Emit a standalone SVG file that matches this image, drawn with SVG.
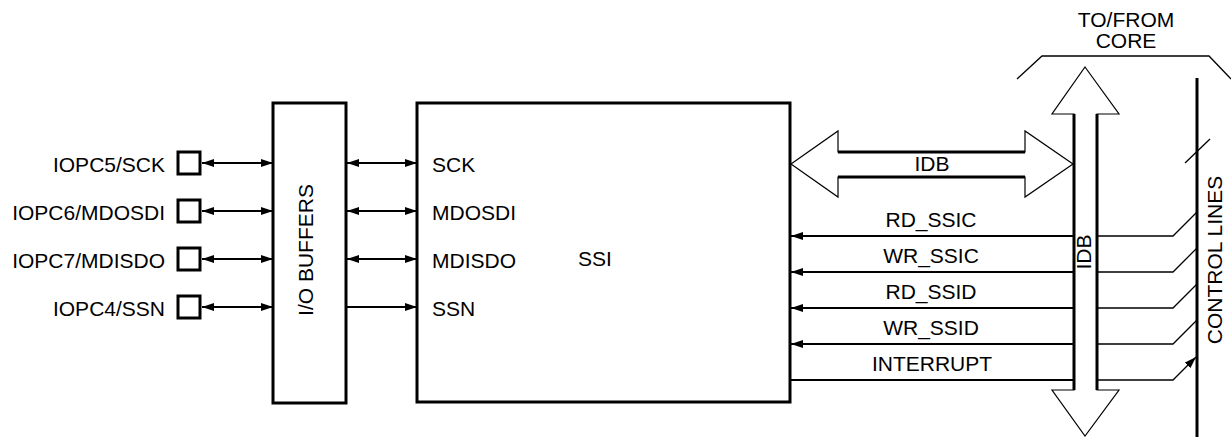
<svg xmlns="http://www.w3.org/2000/svg" width="1231" height="437" viewBox="0 0 1231 437">
<defs>
<marker id="ah" markerUnits="userSpaceOnUse" markerWidth="13" markerHeight="9" refX="12" refY="4" orient="auto-start-reverse"><path d="M0,0 L12,4 L0,8 z" fill="#000"/></marker>
</defs>
<style>
text{font-family:"Liberation Sans",Arial,sans-serif;font-size:21px;fill:#000}
.box{fill:#fff;stroke:#000;stroke-width:3}
.pad{fill:#fff;stroke:#000;stroke-width:3}
.w{fill:none;stroke:#000;stroke-width:2}
.thin{fill:none;stroke:#000;stroke-width:1.3}
.bus{fill:#fff;stroke:#000;stroke-width:1.2}
.shaft{stroke:#000;stroke-width:3}
.mid{text-anchor:middle}
.end{text-anchor:end}
</style>
<rect width="1231" height="437" fill="#fff"/>

<g id="pins">
<rect class="pad" x="178" y="152" width="22" height="22"/>
<rect class="pad" x="178" y="200" width="22" height="22"/>
<rect class="pad" x="178" y="248" width="22" height="22"/>
<rect class="pad" x="178" y="296" width="22" height="22"/>
<text class="end" x="165" y="172">IOPC5/SCK</text>
<text class="end" x="165" y="220">IOPC6/MDOSDI</text>
<text class="end" x="165" y="268">IOPC7/MDISDO</text>
<text class="end" x="165" y="316">IOPC4/SSN</text>
</g>

<g id="io-buffers">
<rect class="box" x="273" y="103" width="73" height="300"/>
<text class="mid" transform="translate(313,250) rotate(-90)">I/O BUFFERS</text>
</g>

<g id="ssi">
<rect class="box" x="417" y="103" width="373" height="299"/>
<text x="432" y="172">SCK</text>
<text x="432" y="220">MDOSDI</text>
<text x="432" y="268">MDISDO</text>
<text x="432" y="316">SSN</text>
<text class="mid" x="595" y="266">SSI</text>
</g>

<g id="idb-h">
<polygon class="bus" points="791,164 838,131 838,152 1025,152 1025,131 1073,164 1025,197 1025,177 838,177 838,197"/>
<line class="shaft" x1="838" y1="152" x2="1025" y2="152"/>
<line class="shaft" x1="838" y1="177" x2="1025" y2="177"/>
<text class="mid" x="932" y="171">IDB</text>
</g>

<g id="idb-v">
<polygon class="bus" points="1085,67 1119,114 1097,114 1097,390 1119,390 1085,436 1052,390 1074,390 1074,114 1052,114"/>
<line class="shaft" x1="1074" y1="114" x2="1074" y2="390"/>
<line class="shaft" x1="1097" y1="114" x2="1097" y2="390"/>
<text class="mid" transform="translate(1091,252) rotate(-90)">IDB</text>
</g>

<g id="core">
<polyline class="thin" points="1017,79 1042,56 1209,56 1231,79"/>
<text class="mid" x="1126" y="27">TO/FROM</text>
<text class="mid" x="1126" y="48">CORE</text>
</g>

<g id="control-lines">
<line class="shaft" x1="1197" y1="78" x2="1197" y2="437"/>
<line class="thin" x1="1185" y1="163" x2="1210" y2="139"/>
<text class="mid" transform="translate(1222,260) rotate(-90)">CONTROL LINES</text>
</g>

<g id="connectors">
<line class="w" x1="202" y1="163" x2="273" y2="163" marker-start="url(#ah)" marker-end="url(#ah)"/>
<line class="w" x1="202" y1="211" x2="273" y2="211" marker-start="url(#ah)" marker-end="url(#ah)"/>
<line class="w" x1="202" y1="259" x2="273" y2="259" marker-start="url(#ah)" marker-end="url(#ah)"/>
<line class="w" x1="202" y1="307" x2="273" y2="307" marker-start="url(#ah)" marker-end="url(#ah)"/>
<line class="w" x1="347" y1="163" x2="417" y2="163" marker-start="url(#ah)" marker-end="url(#ah)"/>
<line class="w" x1="347" y1="211" x2="417" y2="211" marker-start="url(#ah)" marker-end="url(#ah)"/>
<line class="w" x1="347" y1="259" x2="417" y2="259" marker-start="url(#ah)" marker-end="url(#ah)"/>
<line class="w" x1="347" y1="307" x2="417" y2="307" marker-end="url(#ah)"/>

<line class="w" x1="1074" y1="236" x2="791" y2="236" marker-end="url(#ah)"/>
<line class="w" x1="1074" y1="272" x2="791" y2="272" marker-end="url(#ah)"/>
<line class="w" x1="1074" y1="308" x2="791" y2="308" marker-end="url(#ah)"/>
<line class="w" x1="1074" y1="344" x2="791" y2="344" marker-end="url(#ah)"/>
<line class="w" x1="791" y1="380" x2="1074" y2="380"/>

<polyline class="thin" points="1097,236 1173,236 1197,212"/>
<polyline class="thin" points="1097,272 1173,272 1197,248"/>
<polyline class="thin" points="1097,308 1173,308 1197,284"/>
<polyline class="thin" points="1097,344 1173,344 1197,320"/>
<polyline class="thin" points="1097,380 1173,380 1196,357" marker-end="url(#ah)"/>

<text class="mid" x="931" y="227">RD_SSIC</text>
<text class="mid" x="931" y="263">WR_SSIC</text>
<text class="mid" x="931" y="299">RD_SSID</text>
<text class="mid" x="931" y="335">WR_SSID</text>
<text class="mid" x="932" y="371">INTERRUPT</text>
</g>
</svg>
